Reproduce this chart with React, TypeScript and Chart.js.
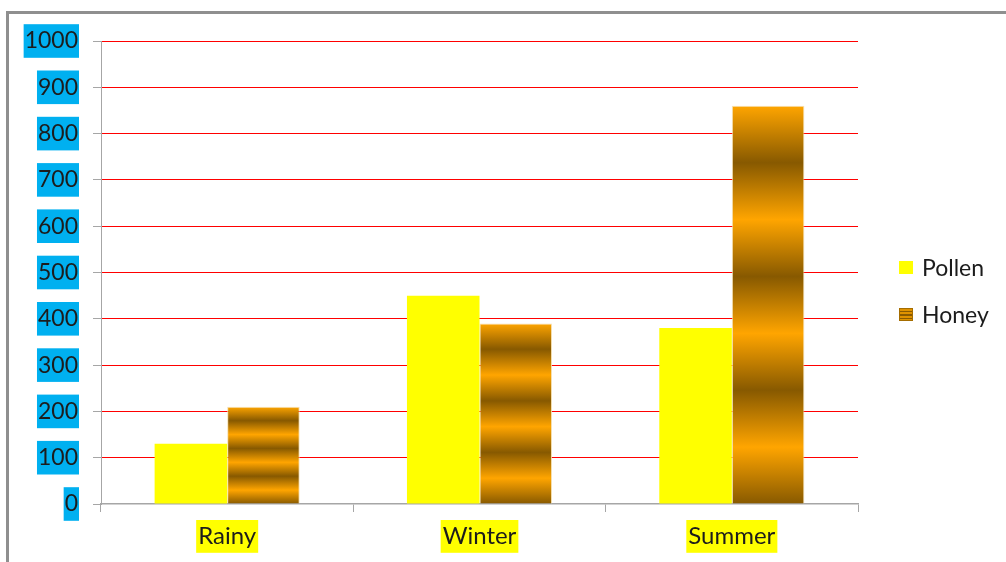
import React, { useEffect, useRef } from "react";
import { Chart, registerables } from "chart.js";

Chart.register(...registerables);

// ---- data ----
const categories = ["Rainy", "Winter", "Summer"];
const seriesNames = ["Pollen", "Honey"];
const pollenValues = [130, 450, 380];
const honeyValues = [210, 390, 860];
const yMin = 0;
const yMax = 1000;
const yStep = 100;

const FONT = "Lato, Carlito, Calibri, 'DejaVu Sans', sans-serif";
const YELLOW = "#FFFF00";
const ORANGE = "#FFA500";
const BROWN = "#875900";
const AXIS_GRAY = "#a6a6a6";
const TEXT = "#1c1c1c";

export default function App() {
  const ref = useRef<HTMLCanvasElement>(null);

  useEffect(() => {
    const canvas = ref.current!;
    const honeyFill = (c: any) => {
      const chart = c.chart;
      const y = chart.scales && chart.scales.y;
      if (c.type !== "data" || !y || !chart.chartArea) return ORANGE;
      const top = y.getPixelForValue(c.raw as number);
      const base = y.getPixelForValue(0);
      if (!isFinite(top) || !isFinite(base) || base - top < 1) return ORANGE;
      const g = chart.ctx.createLinearGradient(0, top, 0, base);
      for (let i = 0; i <= 7; i++) g.addColorStop(i / 7, i % 2 === 0 ? ORANGE : BROWN);
      return g;
    };

    const chart = new Chart(canvas, {
      type: "bar",
      data: {
        labels: categories,
        datasets: [
          {
            label: seriesNames[0],
            data: pollenValues,
            backgroundColor: YELLOW,
            borderWidth: 0,
            barPercentage: 1,
            categoryPercentage: 0.575,
          },
          {
            label: seriesNames[1],
            data: honeyValues,
            backgroundColor: honeyFill,
            borderColor: "rgba(245,222,170,0.9)",
            borderWidth: 1,
            barPercentage: 1,
            categoryPercentage: 0.575,
          },
        ],
      },
      options: {
        responsive: false,
        maintainAspectRatio: false,
        animation: false,
        devicePixelRatio: 1,
        layout: { padding: { left: 0, top: 41, right: 148, bottom: 0 } },
        plugins: {
          legend: { display: false },
          tooltip: { enabled: false },
          title: { display: false },
        },
        scales: {
          x: {
            offset: true,
            grid: {
              display: true,
              offset: true,
              drawOnChartArea: false,
              drawTicks: true,
              tickLength: 8,
              tickColor: AXIS_GRAY,
              color: AXIS_GRAY,
            },
            border: { display: true, color: AXIS_GRAY, width: 1.5 },
            ticks: {
              font: { family: FONT, size: 24, lineHeight: 1.2 },
              color: TEXT,
              padding: 10,
              maxRotation: 0,
              autoSkip: false,
              showLabelBackdrop: true,
              backdropColor: YELLOW,
              backdropPadding: { x: 2, y: 2 },
            } as any,
            afterFit: (s: any) => {
              s.height = 58;
            },
          },
          y: {
            min: yMin,
            max: yMax,
            grid: {
              color: (c: any) => (c.tick && c.tick.value === 0 ? "rgba(0,0,0,0)" : "#FF0000"),
              tickColor: AXIS_GRAY,
              tickLength: 8,
              lineWidth: 1,
            },
            border: { display: true, color: AXIS_GRAY, width: 1 },
            ticks: {
              stepSize: yStep,
              callback: (v: any) => String(v),
              font: { family: FONT, size: 23, lineHeight: 1.2 },
              color: TEXT,
              padding: 15,
              showLabelBackdrop: true,
              backdropColor: "#00B0F0",
              backdropPadding: { x: 1, y: 3 },
            } as any,
            afterFit: (s: any) => {
              s.width = 101;
            },
          },
        },
      } as any,
    });
    return () => chart.destroy();
  }, []);

  const legendText: React.CSSProperties = {
    position: "absolute",
    left: 922,
    fontFamily: FONT,
    fontSize: 23,
    lineHeight: "28px",
    color: TEXT,
    whiteSpace: "nowrap",
  };

  return (
    <div style={{ position: "fixed", left: 0, top: 0, width: 1006, height: 562, overflow: "hidden", background: "#fff" }}>
      <div
        style={{
          position: "absolute",
          left: 6,
          top: 11,
          width: 1040,
          height: 600,
          border: "3px solid #8f8f8f",
          boxSizing: "border-box",
        }}
      />
      <canvas
        ref={ref}
        width={1006}
        height={562}
        style={{ position: "absolute", left: 0, top: 0, width: 1006, height: 562 }}
      />
      <div style={{ position: "absolute", left: 899, top: 261, width: 14, height: 13, background: YELLOW }} />
      <div style={{ ...legendText, top: 253 }}>{seriesNames[0]}</div>
      <div
        style={{
          position: "absolute",
          left: 899,
          top: 308,
          width: 14,
          height: 13,
          boxSizing: "border-box",
          border: "1px solid #a56d00",
          background: "repeating-linear-gradient(180deg, #e09200 0px, #e09200 2px, #8b5a00 2px, #8b5a00 3.5px)",
        }}
      />
      <div style={{ ...legendText, top: 300 }}>{seriesNames[1]}</div>
    </div>
  );
}
